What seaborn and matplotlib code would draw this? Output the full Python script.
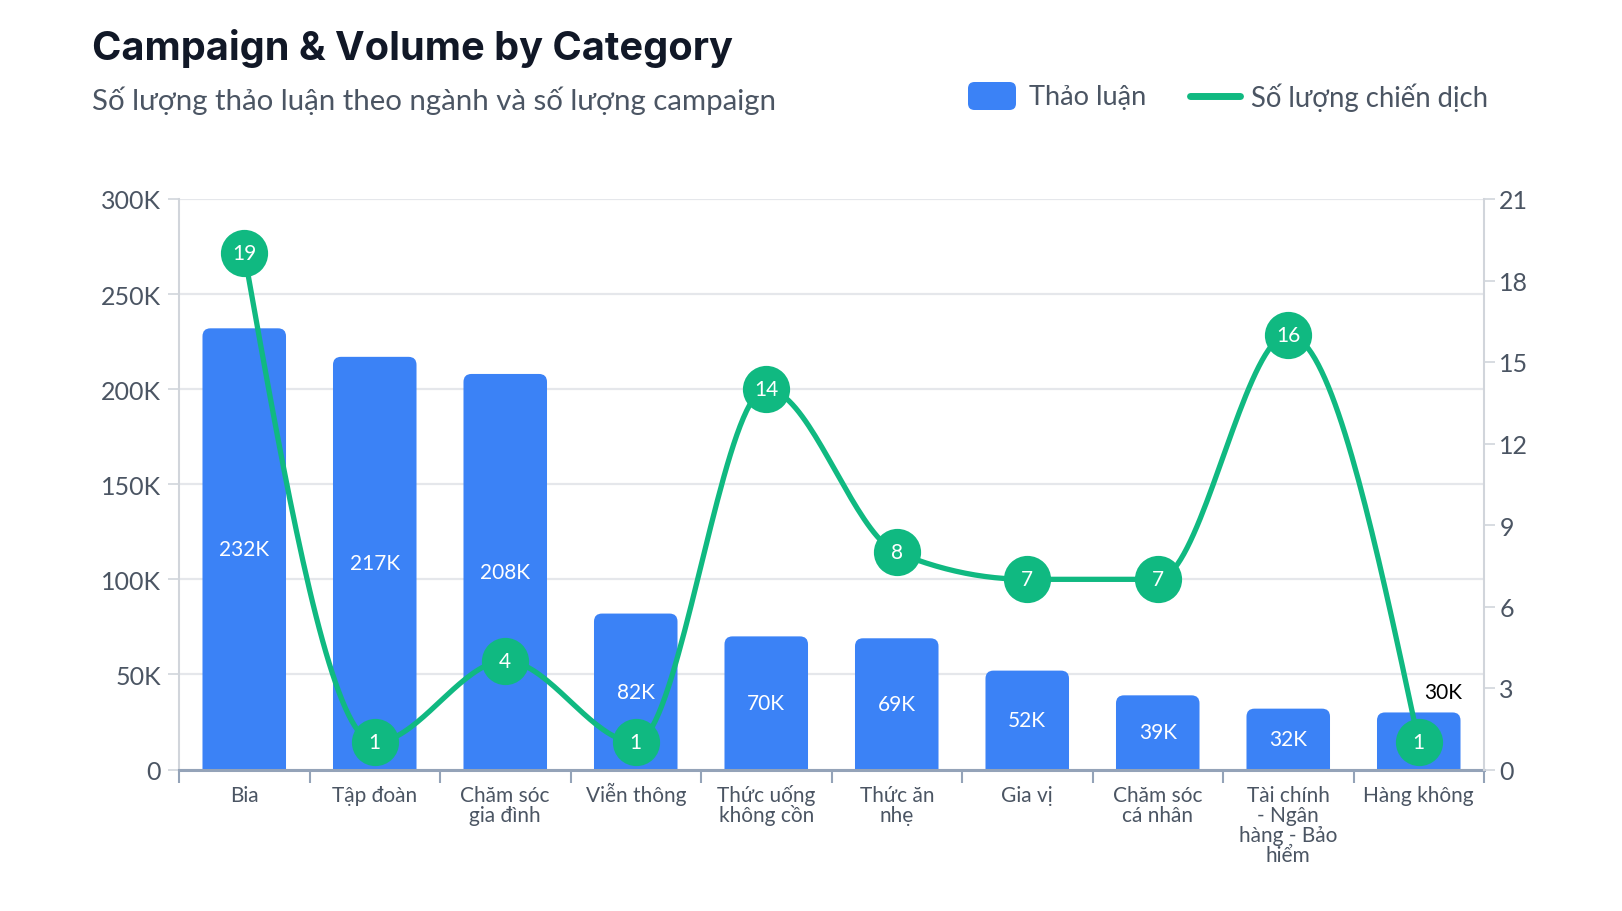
import numpy as np
import pandas as pd
import matplotlib
matplotlib.use("Agg")
import matplotlib.pyplot as plt
import matplotlib.transforms as mtrans
import seaborn as sns
from matplotlib.patches import FancyBboxPatch
from matplotlib.lines import Line2D
from matplotlib.ticker import FuncFormatter, MultipleLocator

# ---------------- data ----------------
categories = ["Bia", "Tập đoàn", "Chăm sóc\ngia đình", "Viễn thông", "Thức uống\nkhông cồn",
              "Thức ăn\nnhẹ", "Gia vị", "Chăm sóc\ncá nhân", "Tài chính\n- Ngân\nhàng - Bảo\nhiểm",
              "Hàng không"]
discussions = [232000, 217000, 208000, 82000, 70000, 69000, 52000, 39000, 32000, 30000]
discussion_labels = ["232K", "217K", "208K", "82K", "70K", "69K", "52K", "39K", "32K", "30K"]
campaigns = [19, 1, 4, 1, 14, 8, 7, 7, 16, 1]

title = "Campaign & Volume by Category"
subtitle = "Số lượng thảo luận theo ngành và số lượng campaign"
legend_bar = "Thảo luận"
legend_line = "Số lượng chiến dịch"

BLUE = "#3b82f6"
GREEN = "#10b981"
TXT = "#4b5563"

sns.set_theme(style="white")
plt.rcParams["font.family"] = ["Lato", "Noto Sans", "DejaVu Sans"]
TITLE_FONT = ["Inter", "Noto Sans", "DejaVu Sans"]

W, H = 1622, 912
fig = plt.figure(figsize=(W / 100, H / 100), dpi=100)
L, R, T, B = 179, 1484, 200, 770.5
ax = fig.add_axes([L / W, 1 - B / H, (R - L) / W, (B - T) / H])

df = pd.DataFrame({"cat": categories, "volume": discussions})
sns.barplot(data=df, x="cat", y="volume", ax=ax, color=BLUE, width=0.64,
            saturation=1, errorbar=None)

ax.set_xlim(-0.5, len(categories) - 0.5)
ax.set_ylim(0, 300000)

# rounded top corners
xpp = (len(categories)) / (R - L)       # x units per pixel
ypp = 300000 / (B - T)                   # y units per pixel
aspect = ypp / xpp
rad = 8 * xpp
for p in list(ax.patches):
    x0, w, h = p.get_x(), p.get_width(), p.get_height()
    p.set_visible(False)
    ext = 20 * ypp
    fb = FancyBboxPatch((x0, -ext), w, h + ext,
                        boxstyle=f"round,pad=0,rounding_size={rad}",
                        mutation_aspect=aspect, fc=BLUE, ec="none",
                        clip_on=True, zorder=2)
    ax.add_patch(fb)

# bar labels
for i, (v, lab) in enumerate(zip(discussions, discussion_labels)):
    if i == len(discussions) - 1:
        ax.text(i + 5 * xpp, v + 10 * ypp, lab, ha="left", va="bottom", color="black",
                fontsize=15, zorder=5)
    else:
        ax.text(i, v / 2, lab, ha="center", va="center", color="white",
                fontsize=15, zorder=5)

# axes styling
ax.set_xlabel("")
ax.set_ylabel("")
ax.yaxis.set_major_locator(MultipleLocator(50000))
ax.yaxis.set_major_formatter(FuncFormatter(lambda v, p: "0" if v == 0 else f"{int(v/1000)}K"))
ax.yaxis.grid(True, color="#e5e7eb", lw=1.6)
ax.set_axisbelow(True)
ax.tick_params(axis="y", which="major", length=8, color="#d1d5db", width=1.2,
               labelsize=18, labelcolor=TXT, pad=5, left=True)
ax.set_xticks(range(len(categories)))
ax.set_xticklabels([""] * len(categories))
ax.tick_params(axis="x", which="major", length=0)
ax.set_xticks(np.arange(-0.5, len(categories)), minor=True)
ax.tick_params(axis="x", which="minor", length=9, color="#94a3b8", width=1.5, bottom=True)
ax.spines["top"].set_visible(False)
ax.spines["left"].set_color("#d1d5db")
ax.spines["left"].set_linewidth(1.5)
ax.spines["right"].set_visible(False)
ax.spines["bottom"].set_color("#94a3b8")
ax.spines["bottom"].set_linewidth(2.2)

# category labels, each line on its own baseline
blend = mtrans.blended_transform_factory(ax.transData, fig.transFigure)
for i, cat in enumerate(categories):
    for k, line in enumerate(cat.split("\n")):
        ax.text(i, 1 - (802 + 20 * k) / H, line, transform=blend, ha="center",
                va="baseline", fontsize=15, color=TXT, clip_on=False)

# secondary axis
ax2 = ax.twinx()
ax2.set_ylim(0, 21)
ax2.yaxis.set_major_locator(MultipleLocator(3))
ax2.tick_params(axis="y", length=8, color="#d1d5db", width=1.2, labelsize=18,
                labelcolor=TXT, pad=3, right=True)
for s in ["top", "left", "bottom"]:
    ax2.spines[s].set_visible(False)
ax2.spines["right"].set_color("#d1d5db")
ax2.spines["right"].set_linewidth(1.5)
ax2.grid(False)


def monotone_curve(xs, ys, n=40):
    xs = np.asarray(xs, float)
    ys = np.asarray(ys, float)
    h = np.diff(xs)
    d = np.diff(ys) / h
    m = np.zeros_like(ys)
    for k in range(1, len(ys) - 1):
        if d[k - 1] * d[k] <= 0:
            m[k] = 0
        else:
            p = (d[k - 1] * h[k] + d[k] * h[k - 1]) / (h[k - 1] + h[k])
            m[k] = (np.sign(d[k - 1]) + np.sign(d[k])) * min(abs(d[k - 1]), abs(d[k]), 0.5 * abs(p))
    m[0] = (3 * d[0] - m[1]) / 2 if len(ys) > 2 else d[0]
    m[-1] = (3 * d[-1] - m[-2]) / 2 if len(ys) > 2 else d[-1]
    X, Y = [], []
    for k in range(len(xs) - 1):
        t = np.linspace(0, 1, n, endpoint=(k == len(xs) - 2))
        h00 = 2 * t**3 - 3 * t**2 + 1
        h10 = t**3 - 2 * t**2 + t
        h01 = -2 * t**3 + 3 * t**2
        h11 = t**3 - t**2
        X.append(xs[k] + t * h[k])
        Y.append(h00 * ys[k] + h10 * h[k] * m[k] + h01 * ys[k + 1] + h11 * h[k] * m[k + 1])
    return np.concatenate(X), np.concatenate(Y)


xpos = np.arange(len(campaigns))
cx, cy = monotone_curve(xpos, campaigns)
sns.lineplot(x=cx, y=cy, ax=ax2, color=GREEN, lw=3.8, sort=False, zorder=3)
ax2.plot(xpos, campaigns, "o", ms=34, color=GREEN, mec="none", zorder=4)
for xi, c in zip(xpos, campaigns):
    ax2.text(xi, c, str(c), ha="center", va="center", color="white", fontsize=15, zorder=6)
ax2.set_xlim(-0.5, len(categories) - 0.5)

# titles
fig.text(92 / W, 1 - 49 / H, title, fontsize=28.6, fontweight="bold", color="#111827",
         family=TITLE_FONT, ha="left", va="center")
fig.text(92 / W, 1 - 101 / H, subtitle, fontsize=21.2, color=TXT, ha="left", va="center")

# legend
fig.patches.append(FancyBboxPatch((968 / W, 1 - 111 / H), 48 / W, 28 / H,
                                  boxstyle="round,pad=0,rounding_size=0.004",
                                  mutation_aspect=W / H,
                                  transform=fig.transFigure, fc=BLUE, ec="none"))
fig.text(1029 / W, 1 - 98 / H, legend_bar, fontsize=19.6, color=TXT, ha="left", va="center")
fig.lines.append(Line2D([1190 / W, 1240 / W], [1 - 97 / H, 1 - 97 / H], color=GREEN, lw=5,
                        transform=fig.transFigure))
fig.text(1251 / W, 1 - 98 / H, legend_line, fontsize=19.8, color=TXT, ha="left", va="center")

fig.savefig("out.png", dpi=100, facecolor="white")
